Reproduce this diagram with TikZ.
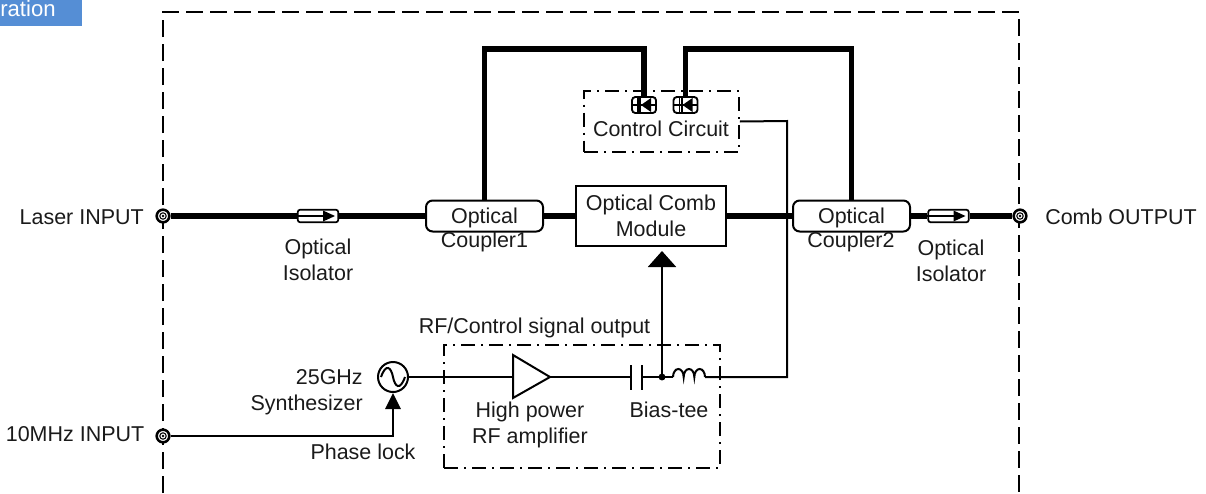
\documentclass[tikz,border=0pt]{standalone}
\usepackage{fontspec}
\setmainfont{Liberation Sans}
\usetikzlibrary{arrows.meta,calc}
\definecolor{tagblue}{HTML}{558ED5}
\definecolor{inkc}{HTML}{1A1A1A}
\tikzset{
  x=0.75pt,y=-0.75pt,
  label text/.style={inner sep=0pt,align=center,font=\fontsize{16.1pt}{19.5pt}\selectfont,text=inkc},
  thin wire/.style={line width=1.5pt,line join=miter},
  thick wire/.style={line width=3.9pt,line join=miter},
  outer dash/.style={line width=1.5pt,dash pattern=on 12.75pt off 5.25pt},
  dash dot box/.style={draw,line width=1.5pt,dash pattern=on 10.5pt off 4.5pt on 1.5pt off 4.5pt,inner sep=0pt},
  coupler/.style={draw,fill=white,line width=1.5pt,rounded corners=5pt,minimum width=87.75pt,minimum height=23.25pt,inner sep=0pt,label text,text depth=0pt},
  module/.style={draw,fill=white,line width=1.5pt,minimum width=112.5pt,minimum height=45pt,inner sep=0pt,label text},
  isolator/.style={draw,fill=white,line width=1.3pt,rounded corners=2pt,minimum width=30.5pt,minimum height=9.5pt,inner sep=0pt},
  diode/.style={draw,fill=white,line width=1.4pt,rounded corners=2.5pt,minimum width=18pt,minimum height=12pt,inner sep=0pt},
  port/.style={circle,draw,fill=white,line width=1.9pt,minimum size=9.5pt,inner sep=0pt},
  big head/.style={-{Triangle[length=12pt,width=21pt]}},
  small head/.style={-{Triangle[length=12pt,width=11.5pt]}},
}
\newcommand{\portdot}[1]{\fill (#1) circle (1pt); \draw[line width=0.8pt] (#1) circle (2.4pt);}
\newcommand{\isoarrow}[1]{%
  \draw[line width=2pt] (#1.west) -- ($(#1.center)+(8,0)$);
  \fill ($(#1.center)+(17,0)$) -- ($(#1.center)+(5,-5.5)$) -- ($(#1.center)+(5,5.5)$) -- cycle;}
\newcommand{\diodemark}[1]{%
  \draw[line width=1.2pt] (#1.west) -- (#1.east);
  \draw[line width=1.2pt] ($(#1.center)+(-6,-8)$) -- ($(#1.center)+(-6,8)$);
  \fill ($(#1.center)+(-3,0)$) -- ($(#1.center)+(7,-7)$) -- ($(#1.center)+(7,7)$) -- cycle;
  \draw[line width=1.5pt] ($(#1.center)+(-4,-7)$) -- ($(#1.center)+(-4,7)$);}
\begin{document}
\begin{tikzpicture}
\useasboundingbox (0,0) rectangle (1206,493);
% tag
\node[fill=tagblue,minimum width=61.5pt,minimum height=19.5pt,inner sep=0pt,anchor=north west] (tag) at (0,0) {};
\node[inner sep=0pt,text=white,font=\fontsize{16.6pt}{19pt}\selectfont,anchor=base west] (tagtext) at (0,16) {ration};
% outer frame
\coordinate (fbl) at (163,493);
\coordinate (ftl) at (163,12);
\coordinate (ftr) at (1019,12);
\coordinate (fbr) at (1019,493);
\draw[outer dash] (fbl) -- (ftl) -- (ftr) -- (fbr);
% main elements
\node[port] (laser) at (163,216) {};
\node[port] (comb) at (1020,216) {};
\node[port] (ref) at (163,436) {};
\node[coupler] (c1) at (484.5,216) {Optical};
\node[coupler] (c2) at (851.5,216) {Optical};
\node[module,align=center] (mod) at (651,216) {Optical Comb\\[0pt]Module};
\node[isolator] (iso1) at (318,216) {};
\node[isolator] (iso2) at (948.5,216) {};
\node[dash dot box,minimum width=116pt,minimum height=45.75pt] (ctrl) at (661.5,121.5) {};
\node[dash dot box,minimum width=207pt,minimum height=92.25pt] (rfbox) at (582,406.5) {};
\node[diode] (d1) at (644,105) {};
\node[diode] (d2) at (685.5,105) {};
\node[circle,draw,fill=white,line width=1.5pt,minimum size=22.5pt,inner sep=0pt] (syn) at (393,377) {};
\draw[line width=1.5pt] (381,377) .. controls (386,363) and (391,367) .. (393,377) .. controls (395,387) and (400,391) .. (405,377);
% thick wires
\draw[thick wire] (laser.east) -- (iso1.west);
\draw[thick wire] (iso1.east) -- (c1.west);
\draw[thick wire] (c1.east) -- (mod.west);
\draw[thick wire] (mod.east) -- (c2.west);
\draw[thick wire] (c2.east) -- (iso2.west);
\draw[thick wire] (iso2.east) -- (comb.west);
\draw[thick wire] (c1.north) -- (484.5,49) -| (d1.north);
\draw[thick wire] (c2.north) -- (851.5,49) -| (d2.north);
\isoarrow{iso1}
\isoarrow{iso2}
\diodemark{d1}
\diodemark{d2}
\portdot{laser}
\portdot{comb}
\portdot{ref}
% RF chain
\coordinate (ampT) at (513,355);
\coordinate (ampB) at (513,398);
\coordinate (ampTip) at (550,377);
\coordinate (ampIn) at (513,377);
\coordinate (capL) at (631,377);
\coordinate (capR) at (642,377);
\coordinate (junc) at (662,377);
\coordinate (indL) at (673,377);
\coordinate (indR) at (705,377);
\coordinate (corner) at (787,377);
\draw[thin wire] (syn.east) -- (ampIn);
\draw[thin wire] (ampT) -- (ampB) -- (ampTip) -- cycle;
\draw[thin wire] (ampTip) -- (capL);
\draw[thin wire] (631,365) -- (631,390);
\draw[thin wire] (642,365) -- (642,390);
\draw[thin wire] (capR) -- (indL);
\draw[thin wire] (indL) arc[start angle=180,end angle=0,x radius=4pt,y radius=6pt]
  arc[start angle=180,end angle=0,x radius=4pt,y radius=6pt]
  arc[start angle=180,end angle=0,x radius=4pt,y radius=6pt];
\draw[thin wire] (indR) -- (corner) -- (787,121) -- (ctrl.east);
\fill (junc) circle (2.6pt);
\draw[thin wire,big head,shorten >=3pt] (junc) -- (junc |- mod.south);
\draw[thin wire,small head] (ref.east) -| (syn.south);
% labels
\node[label text,anchor=east] (t1) at (144,217) {Laser INPUT};
\node[label text,anchor=west] (t2) at (1045,217) {Comb OUTPUT};
\node[label text,anchor=east] (t3) at (144.5,434) {10MHz INPUT};
\node[label text] (t4) at (318,260) {Optical\\Isolator};
\node[label text] (t5) at (951,261) {Optical\\Isolator};
\node[label text] (t6) at (484.5,242) {Coupler1};
\node[label text] (t7) at (851,242) {Coupler2};
\node[label text] (t8) at (661,129) {Control Circuit};
\node[label text] (t9) at (534.5,328) {RF/Control signal output};
\node[label text,align=right,anchor=east] (t10) at (363,392) {25GHz\\Synthesizer};
\node[label text] (t11) at (363,452) {Phase lock};
\node[label text] (t12) at (530,424.5) {High power\\RF amplifier};
\node[label text] (t13) at (669,410) {Bias-tee};
\end{tikzpicture}
\end{document}
